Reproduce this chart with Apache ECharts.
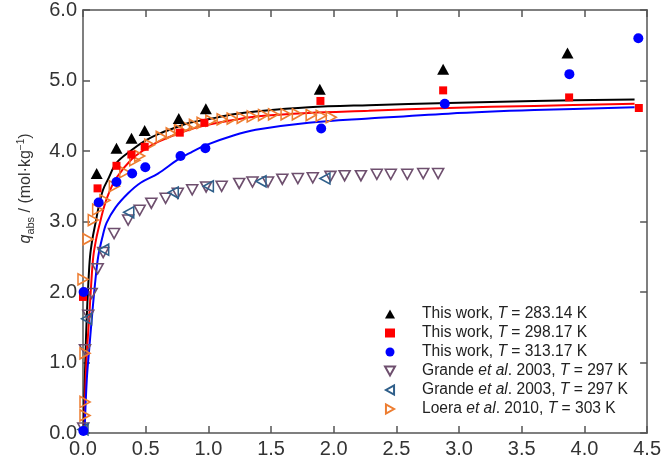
<!DOCTYPE html>
<html>
<head>
<meta charset="utf-8">
<script src="https://cdn.jsdelivr.net/npm/echarts@6/dist/echarts.min.js"></script>
<style>
  html, body { margin: 0; padding: 0; background: #fff; }
  #chart { width: 664px; height: 463px; }
</style>
</head>
<body>
<div id="chart"></div>
<script>
// --- data (pressure / MPa, q_abs / mol·kg-1) ---
const tw283X = [0.109, 0.267, 0.387, 0.492, 0.764, 0.980, 1.889, 2.873, 3.865, 4.40];
const tw283Y = [3.68, 4.04, 4.18, 4.29, 4.46, 4.60, 4.875, 5.16, 5.39, 6.02];

const tw298X = [0.0, 0.116, 0.267, 0.386, 0.492, 0.772, 0.968, 1.894, 2.873, 3.878, 4.434];
const tw298Y = [1.93, 3.47, 3.79, 3.95, 4.06, 4.26, 4.40, 4.71, 4.86, 4.76, 4.61];

const tw313X = [0.003, 0.005, 0.125, 0.267, 0.392, 0.497, 0.778, 0.976, 1.90, 2.886, 3.88, 4.43];
const tw313Y = [0.03, 2.00, 3.27, 3.56, 3.68, 3.77, 3.93, 4.04, 4.32, 4.67, 5.09, 5.60];

const grandeDownX = [0.002, 0.016, 0.042, 0.069, 0.117, 0.161, 0.248, 0.36, 0.452, 0.545, 0.659, 0.756,
  0.871, 0.982, 1.106, 1.246, 1.352, 1.476, 1.59, 1.714, 1.833, 1.974, 2.087, 2.217, 2.344, 2.455,
  2.587, 2.714, 2.833];
const grandeDownY = [0.07, 1.18, 1.67, 1.98, 2.33, 2.56, 2.83, 3.02, 3.16, 3.26, 3.33, 3.40,
  3.45, 3.49, 3.50, 3.54, 3.56, 3.56, 3.60, 3.61, 3.62, 3.64, 3.65, 3.65, 3.67, 3.67,
  3.67, 3.68, 3.68];

const grandeLeftX = [0.0, 0.029, 0.165, 0.365, 0.72, 1.0, 1.42, 1.93];
const grandeLeftY = [0.05, 1.62, 2.60, 3.13, 3.41, 3.50, 3.57, 3.61];

const loeraX = [0.016, 0.016, 0.016, 0.0, 0.04, 0.082, 0.117, 0.175, 0.25, 0.333, 0.413, 0.452, 0.532,
  0.624, 0.704, 0.77, 0.83, 0.889, 0.95, 1.02, 1.11, 1.19, 1.27, 1.35, 1.44, 1.52, 1.62, 1.71,
  1.82, 1.90, 1.98];
const loeraY = [0.25, 0.44, 1.13, 2.18, 2.75, 3.02, 3.17, 3.30, 3.50, 3.70, 3.87, 3.93, 4.09,
  4.20, 4.25, 4.30, 4.34, 4.37, 4.40, 4.43, 4.45, 4.46, 4.47, 4.49, 4.51, 4.52, 4.52, 4.52,
  4.51, 4.50, 4.48];

// fitted isotherms
const fit283X = [0.005, 0.012, 0.02, 0.029, 0.042, 0.056, 0.075, 0.1, 0.13, 0.16, 0.2, 0.267, 0.386,
  0.5, 0.6, 0.75, 0.85, 1.0, 1.2, 1.378, 1.8, 2.278, 2.913, 3.6, 4.4];
const fit283Y = [0, 0.6, 1.1, 1.6, 2.1, 2.5, 2.75, 2.98, 3.25, 3.45, 3.6, 3.83, 4.01,
  4.15, 4.24, 4.34, 4.40, 4.45, 4.52, 4.56, 4.62, 4.65, 4.68, 4.71, 4.73];

const fit298X = [0.01, 0.02, 0.033, 0.048, 0.065, 0.082, 0.105, 0.135, 0.17, 0.21, 0.267, 0.386, 0.5,
  0.598, 0.81, 0.968, 1.2, 1.378, 1.8, 2.278, 2.913, 3.6, 4.4];
const fit298Y = [0, 0.7, 1.2, 1.6, 2.1, 2.5, 2.75, 2.98, 3.22, 3.42, 3.62, 3.88, 4.03,
  4.13, 4.28, 4.36, 4.44, 4.49, 4.54, 4.57, 4.61, 4.64, 4.67];

const fit313X = [0.012, 0.03, 0.05, 0.069, 0.095, 0.121, 0.155, 0.188, 0.26, 0.36, 0.46, 0.598, 0.75,
  0.85, 0.976, 1.2, 1.378, 1.8, 2.278, 2.913, 3.6, 4.4];
const fit313Y = [0, 0.75, 1.2, 1.6, 2.1, 2.5, 2.78, 2.98, 3.2, 3.4, 3.55, 3.68, 3.87,
  3.97, 4.08, 4.22, 4.30, 4.40, 4.46, 4.53, 4.58, 4.62];

const xTicks = [0, 0.5, 1, 1.5, 2, 2.5, 3, 3.5, 4, 4.5];
const yTicks = [0, 1, 2, 3, 4, 5, 6];

const legendLabels = {
  tw283: '{n|This work, }{i|T}{n| = 283.14 K}',
  tw298: '{n|This work, }{i|T}{n| = 298.17 K}',
  tw313: '{n|This work, }{i|T}{n| = 313.17 K}',
  grandeDown: '{n|Grande }{i|et al}{n|. 2003, }{i|T}{n| = 297 K}',
  grandeLeft: '{n|Grande }{i|et al}{n|. 2003, }{i|T}{n| = 297 K}',
  loera: '{n|Loera }{i|et al}{n|. 2010, }{i|T}{n| = 303 K}'
};

const zip = (xs, ys) => xs.map((x, i) => [x, ys[i]]);

const FONT = 'Liberation Sans, Arial, sans-serif';
const AXIS_COLOR = '#555';
const LABEL_COLOR = '#333';

const DOWN = 'path://M0,0L10,0L5,9Z';
const LEFT = 'path://M9,0L9,10L0,5Z';
const RIGHT = 'path://M0,0L0,10L9,5Z';

function fitLine(name, xs, ys, color) {
  return {
    name, type: 'line', data: zip(xs, ys), smooth: 0.35, showSymbol: false,
    lineStyle: { color, width: 2 }, z: 1, silent: true
  };
}

function scatter(name, xs, ys, symbol, size, itemStyle) {
  return {
    name, type: 'scatter', data: zip(xs, ys), symbol, symbolSize: size,
    itemStyle: Object.assign({ opacity: 1 }, itemStyle), z: 3
  };
}

function hollow(color) {
  return { color: 'rgba(255,255,255,0)', borderColor: color, borderWidth: 1.6 };
}

function axisCommon(min, max, interval, showLabel) {
  return {
    type: 'value', min, max, interval,
    axisLine: { show: true, onZero: false, lineStyle: { color: AXIS_COLOR, width: 1.5 } },
    axisTick: { show: true, inside: true, length: 7, lineStyle: { color: AXIS_COLOR, width: 1.5 } },
    axisLabel: {
      show: showLabel, fontFamily: FONT, fontSize: 20, color: LABEL_COLOR, margin: 6,
      formatter: v => v.toFixed(1)
    },
    splitLine: { show: false }
  };
}

const chart = echarts.init(document.getElementById('chart'));

chart.setOption({
  animation: false,
  backgroundColor: '#fff',
  grid: { left: 83, right: 14, top: 9, bottom: 30 },
  xAxis: [
    Object.assign(axisCommon(xTicks[0], xTicks[xTicks.length - 1], 0.5, true), { position: 'bottom' }),
    Object.assign(axisCommon(xTicks[0], xTicks[xTicks.length - 1], 0.5, false), { position: 'top' })
  ],
  yAxis: [
    Object.assign(axisCommon(yTicks[0], yTicks[yTicks.length - 1], 1, true), {
      position: 'left',
      name: '{q|q}{s|abs}{m| / (mol·kg}{u|−1}{m|)}',
      nameLocation: 'middle',
      nameRotate: 90,
      nameGap: 47,
      nameTextStyle: {
        padding: [0, 0, 0, 66],
        rich: {
          q: { fontFamily: FONT, fontSize: 16, fontStyle: 'italic', color: LABEL_COLOR, lineHeight: 20 },
          s: { fontFamily: FONT, fontSize: 11, color: LABEL_COLOR, lineHeight: 11, verticalAlign: 'bottom' },
          m: { fontFamily: FONT, fontSize: 16, color: LABEL_COLOR, lineHeight: 20 },
          u: { fontFamily: FONT, fontSize: 10, color: LABEL_COLOR, lineHeight: 10, verticalAlign: 'top' }
        }
      }
    }),
    Object.assign(axisCommon(yTicks[0], yTicks[yTicks.length - 1], 1, false), { position: 'right' })
  ],
  legend: {
    orient: 'vertical',
    left: 379,
    top: 301,
    itemWidth: 10,
    itemHeight: 9,
    itemGap: 3,
    data: Object.keys(legendLabels),
    formatter: name => legendLabels[name],
    textStyle: {
      padding: [0, 0, 0, 22],
      rich: {
        n: { fontFamily: FONT, fontSize: 15.6, color: '#222', lineHeight: 15 },
        i: { fontFamily: FONT, fontSize: 15.6, fontStyle: 'italic', color: '#222', lineHeight: 15 }
      }
    }
  },
  series: [
    fitLine('fit283', fit283X, fit283Y, '#000000'),
    fitLine('fit298', fit298X, fit298Y, '#ff0000'),
    fitLine('fit313', fit313X, fit313Y, '#0000ff'),
    scatter('grandeDown', grandeDownX, grandeDownY, DOWN, [11, 10], hollow('#6e4f6e')),
    scatter('grandeLeft', grandeLeftX, grandeLeftY, LEFT, [10, 11], hollow('#2f5f8a')),
    scatter('loera', loeraX, loeraY, RIGHT, [10, 11], hollow('#ed7d31')),
    scatter('tw283', tw283X, tw283Y, 'triangle', [12, 11], { color: '#000' }),
    scatter('tw298', tw298X, tw298Y, 'rect', 8, { color: '#ff0000' }),
    scatter('tw313', tw313X, tw313Y, 'circle', 10, { color: '#0000ff' })
  ]
});
</script>
</body>
</html>
